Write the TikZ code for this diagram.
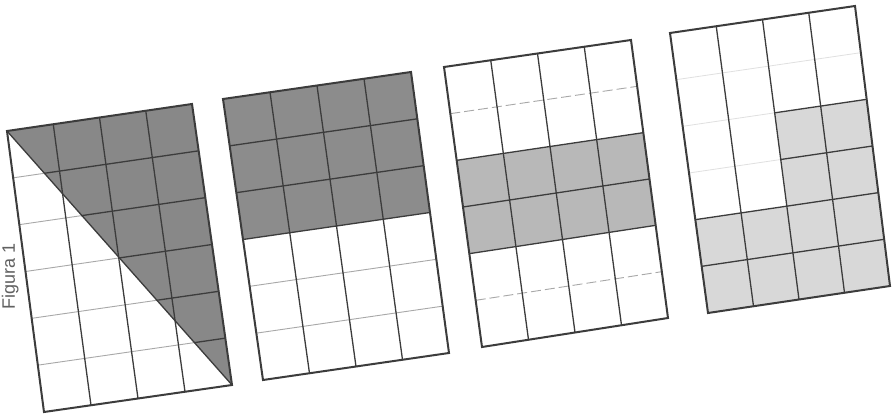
\documentclass[tikz,border=0pt]{standalone}
\usepackage{fontspec}
\setsansfont{Liberation Sans}
\usetikzlibrary{calc}
\definecolor{lineD}{HTML}{3C3C3C}
\definecolor{lineF}{HTML}{A8A8A8}
\definecolor{lineVF}{HTML}{E0E0E0}
\definecolor{shA}{HTML}{888888}
\definecolor{shB}{HTML}{8C8C8C}
\definecolor{shC}{HTML}{B8B8B8}
\definecolor{shD}{HTML}{D8D8D8}
\newcommand\defquad[5]{%
  \coordinate (#1a) at #2;
  \coordinate (#1b) at #3;
  \coordinate (#1c) at #4;
  \coordinate (#1d) at #5;
  \foreach \i in {0,...,4}{%
    \coordinate (#1T\i) at ($(#1a)!\i/4!(#1b)$);
    \coordinate (#1B\i) at ($(#1d)!\i/4!(#1c)$);
  }
  \foreach \j in {0,...,6}{%
    \coordinate (#1L\j) at ($(#1a)!\j/6!(#1d)$);
    \coordinate (#1R\j) at ($(#1b)!\j/6!(#1c)$);
  }
}
\tikzset{
  border/.style={draw=lineD, line width=2pt, line join=miter},
  darkline/.style={draw=lineD, line width=1.3pt},
  faintline/.style={draw=lineF, line width=0.9pt},
  vfaintline/.style={draw=lineVF, line width=0.8pt},
  label/.style={font=\sffamily\fontsize{18}{18}\selectfont, text=black!62, inner sep=0pt}
}
\begin{document}
\begin{tikzpicture}[x=1pt,y=-1pt]
\useasboundingbox (0,0) rectangle (892,414);
\fill[white] (0,0) rectangle (892,414);

\defquad{P}{(7,131)}{(192,104)}{(232,385)}{(44,412)}
\defquad{Q}{(223,99)}{(411,72)}{(449,353)}{(263,380)}
\defquad{S}{(444,67)}{(631,40)}{(668,318)}{(482,347)}
\defquad{U}{(670,33)}{(855,6)}{(890,286)}{(708,313)}

% ---------- panel 1: diagonal half ----------
\fill[shA] (Pa) -- (Pb) -- (Pc) -- cycle;
\foreach \j in {1,...,5}{
  \path[faintline] (PL\j) -- ($(PL\j)!\j/6!(PR\j)$);
  \path[darkline] ($(PL\j)!\j/6!(PR\j)$) -- (PR\j);
}
\foreach \i in {1,2,3}{ \path[darkline] (PT\i) -- (PB\i); }
\path[darkline] (Pa) -- (Pc);
\path[border] (Pa) -- (Pb) -- (Pc) -- (Pd) -- cycle;

% ---------- panel 2: top three rows ----------
\fill[shB] (Qa) -- (Qb) -- (QR3) -- (QL3) -- cycle;
\foreach \j in {1,2,3}{ \path[darkline] (QL\j) -- (QR\j); }
\foreach \j in {4,5}{ \path[faintline] (QL\j) -- (QR\j); }
\foreach \i in {1,2,3}{ \path[darkline] (QT\i) -- (QB\i); }
\path[border] (Qa) -- (Qb) -- (Qc) -- (Qd) -- cycle;

% ---------- panel 3: middle two rows ----------
\fill[shC] (SL2) -- (SR2) -- (SR4) -- (SL4) -- cycle;
\foreach \j in {1,5}{ \path[faintline, dash pattern=on 10pt off 4pt] (SL\j) -- (SR\j); }
\foreach \j in {2,3,4}{ \path[darkline] (SL\j) -- (SR\j); }
\foreach \i in {1,2,3}{ \path[darkline] (ST\i) -- (SB\i); }
\path[border] (Sa) -- (Sb) -- (Sc) -- (Sd) -- cycle;

% ---------- panel 4: L-shaped region ----------
\coordinate (UM2) at ($(UL2)!0.5!(UR2)$);
\coordinate (UM3) at ($(UL3)!0.5!(UR3)$);
\coordinate (UM4) at ($(UL4)!0.5!(UR4)$);
\fill[shD] (UM2) -- (UR2) -- (Uc) -- (Ud) -- (UL4) -- (UM4) -- cycle;
\path[vfaintline] (UL1) -- (UR1);
\path[vfaintline] (UL2) -- (UM2);
\path[vfaintline] (UL3) -- (UM3);
\path[darkline] (UM2) -- (UR2);
\path[darkline] (UM3) -- (UR3);
\foreach \j in {4,5}{ \path[darkline] (UL\j) -- (UR\j); }
\foreach \i in {1,2,3}{ \path[darkline] (UT\i) -- (UB\i); }
\path[border] (Ua) -- (Ub) -- (Uc) -- (Ud) -- cycle;

% ---------- caption ----------
\node[label, rotate=90, anchor=base] (cap) at (15,276) {Figura 1};
\end{tikzpicture}
\end{document}
